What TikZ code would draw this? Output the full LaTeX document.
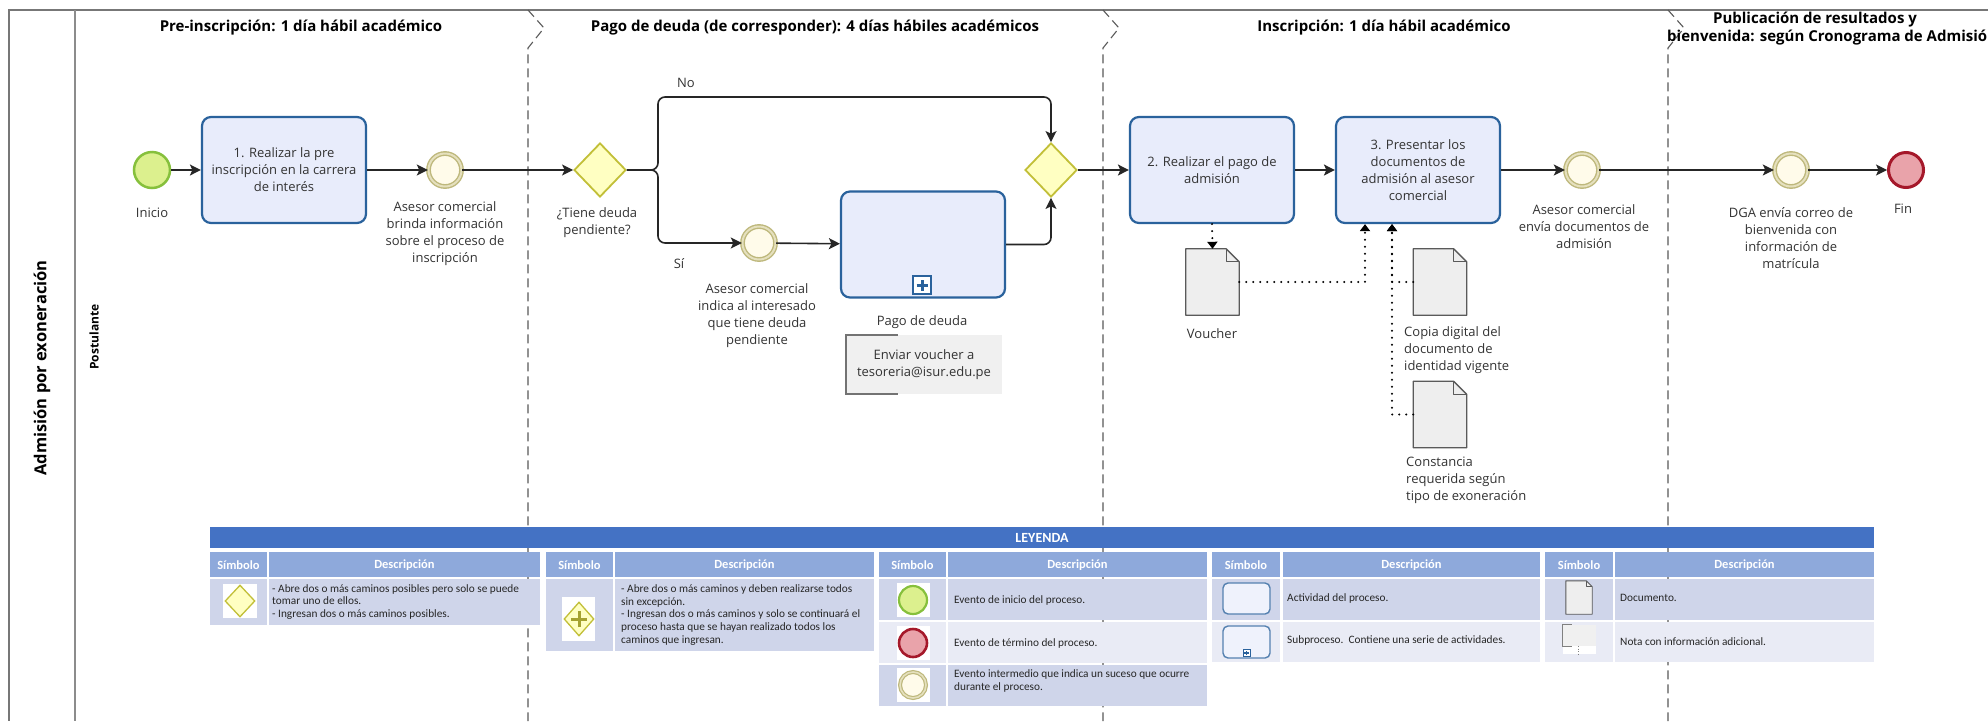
\documentclass[tikz,border=0pt]{standalone}
\usepackage{fontspec}
\setmainfont{Open Sans}
\newfontfamily\legendfont{Carlito}
\usetikzlibrary{shapes.geometric,arrows.meta,calc}

\definecolor{taskfill}{HTML}{E8ECFB}
\definecolor{taskdraw}{HTML}{2A629C}
\definecolor{startfill}{HTML}{DCF08E}
\definecolor{startdraw}{HTML}{86C03C}
\definecolor{endfill}{HTML}{E9A3AA}
\definecolor{enddraw}{HTML}{A5182A}
\definecolor{midfill}{HTML}{FFFBEA}
\definecolor{middraw}{HTML}{BEB87C}
\definecolor{gwfill}{HTML}{FFFFC2}
\definecolor{gwdraw}{HTML}{C2BF38}
\definecolor{docfill}{HTML}{EEEEEE}
\definecolor{docdraw}{HTML}{5A5A5A}
\definecolor{notefill}{HTML}{F0F0F0}
\definecolor{labelgray}{HTML}{333333}
\definecolor{poolline}{HTML}{777777}
\definecolor{lgtitle}{HTML}{4472C4}
\definecolor{lghead}{HTML}{8EA9DB}
\definecolor{lgrowA}{HTML}{CFD5EA}
\definecolor{lgrowB}{HTML}{E9EBF5}

% document icon drawn around an empty node: #2 node name, #3 fold size
\newcommand\drawdoc[3][1.3pt]{%
  \filldraw[fill=docfill, draw=docdraw, line width=#1, line join=round]
    (#2.north west) -- ($(#2.north east)+(-#3,0)$) -- ($(#2.north east)+(0,#3)$)
    -- (#2.south east) -- (#2.south west) -- cycle;
  \draw[draw=docdraw, line width=#1, line join=round]
    ($(#2.north east)+(-#3,0)$) |- ($(#2.north east)+(0,#3)$);
}

\begin{document}
\begin{tikzpicture}[x=1pt,y=-1pt,
  every node/.style={inner sep=0pt},
  lbl/.style={font=\fontsize{13}{17}\selectfont, text=labelgray, align=center},
  ttl/.style={font=\fontsize{15}{17.5}\selectfont\bfseries, align=center},
  task/.style={rectangle, rounded corners=9pt, fill=taskfill, draw=taskdraw,
    line width=2.2pt, minimum width=164pt, minimum height=106pt, align=center,
    font=\fontsize{13}{17}\selectfont, text=labelgray},
  startev/.style={circle, fill=startfill, draw=startdraw, line width=2.5pt, minimum size=36pt},
  endev/.style={circle, fill=endfill, draw=enddraw, line width=3pt, minimum size=35pt},
  midev/.style={circle, fill=midfill, draw=middraw, line width=1.4pt,
    double=midfill!60!middraw, double distance=2pt, minimum size=33pt},
  gateway/.style={diamond, fill=gwfill, draw=gwdraw, line width=1.8pt,
    minimum width=52pt, minimum height=54pt},
  flow/.style={draw=black!85, line width=1.6pt, -{Stealth[length=11pt,width=11pt,inset=2.5pt]}},
  assoc/.style={draw=black, line width=2.2pt, dash pattern=on 0pt off 7pt, line cap=round,
    -{Triangle[length=7pt,width=10pt]}},
  docnode/.style={minimum width=53pt, minimum height=66pt},
  phase/.style={draw=black!65, line width=1.1pt, dash pattern=on 9pt off 5pt},
  lgtext/.style={font=\legendfont\fontsize{11.3}{12.8}\selectfont, text=black!85, align=left, anchor=west},
  lghd/.style={font=\legendfont\bfseries\fontsize{12.5}{14}\selectfont, text=white},
]
\path[use as bounding box] (0,0) rectangle (1988,721);
\clip (0,0) rectangle (1988,721);
\fill[white] (0,0) rectangle (1988,721);

% pool and lane
\draw[poolline, line width=2.5pt] (1988,10) -- (9,10) -- (9,721);
\draw[black!45, line width=2pt] (75,10) -- (75,721);
\node[rotate=90, font=\fontsize{16.5}{19}\selectfont\bfseries] (pool) at (42,368) {Admisión por exoneración};
\node[rotate=90, font=\fontsize{12}{14}\selectfont\bfseries] (lane) at (94,337) {Postulante};

% phase separators
\foreach \px in {528,1103,1668}
  \draw[phase] (\px,10) -- (\px+16,28) -- (\px,48) -- (\px,721);

% phase titles
\node[ttl, anchor=north] (ph1) at (301,20) {Pre-inscripción: 1 día hábil académico};
\node[ttl, anchor=north] (ph2) at (815,20) {Pago de deuda (de corresponder): 4 días hábiles académicos};
\node[ttl, anchor=north] (ph3) at (1384,20) {Inscripción: 1 día hábil académico};
\node[ttl, anchor=north] (ph4a) at (1815,12) {Publicación de resultados y};
\node[ttl, anchor=north west] (ph4b) at (1667,30) {bienvenida: según Cronograma de Admisión};

% flow objects
\node[startev] (inicio) at (152,170) {};
\node[task] (t1) at (284,170) {1. Realizar la pre\\inscripción en la carrera\\de interés};
\node[midev] (e1) at (445,170) {};
\node[gateway] (g1) at (600,170) {};
\node[midev] (e2) at (759,243) {};
\node[task] (sp) at (923,244.5) {};
\node[draw=taskdraw, fill=white, line width=1.5pt, minimum size=18pt] (spmark) at (922,285) {};
\draw[taskdraw, line width=3pt] ([xshift=-5.5pt]spmark.center) -- ([xshift=5.5pt]spmark.center)
  ([yshift=-5.5pt]spmark.center) -- ([yshift=5.5pt]spmark.center);
\node[gateway] (g2) at (1051,170) {};
\node[task] (t2) at (1212,170) {2. Realizar el pago de\\admisión};
\node[task] (t3) at (1418,170) {3. Presentar los\\documentos de\\admisión al asesor\\comercial};
\node[midev] (e3) at (1582,170) {};
\node[midev] (e4) at (1791,170) {};
\node[endev] (fin) at (1906,170) {};

% labels
\node[lbl, anchor=north] (inicioL) at (152,208) {Inicio};
\node[lbl, anchor=north] (e1L) at (445,201) {Asesor comercial\\brinda información\\sobre el proceso de\\inscripción};
\node[lbl, anchor=north] (g1L) at (597,207) {¿Tiene deuda\\pendiente?};
\node[lbl, anchor=north] (noL) at (686,78) {No};
\node[lbl, anchor=north] (siL) at (679,258) {Sí};
\node[lbl, anchor=north] (e2L) at (757,283) {Asesor comercial\\indica al interesado\\que tiene deuda\\pendiente};
\node[lbl, anchor=north] (spL) at (922,315) {Pago de deuda};
\node[lbl, anchor=north] (e3L) at (1584,204) {Asesor comercial\\envía documentos de\\admisión};
\node[lbl, anchor=north] (e4L) at (1791,207) {DGA envía correo de\\bienvenida con\\información de\\matrícula};
\node[lbl, anchor=north] (finL) at (1903,204) {Fin};

% annotation attached to the subprocess
\node[fill=notefill, minimum width=156pt, minimum height=59pt, lbl] (nota) at (924,364.5)
  {Enviar voucher a\\tesoreria@isur.edu.pe};
\draw[black!55, line width=1.5pt] ([xshift=52pt]nota.north west) -- (nota.north west)
  -- (nota.south west) -- ([xshift=52pt]nota.south west);

% data objects
\node[docnode] (voucher) at (1212.5,282) {};
\node[docnode] (copia) at (1440,282) {};
\node[docnode] (constancia) at (1440,414.5) {};
\drawdoc{voucher}{13}
\drawdoc{copia}{13}
\drawdoc{constancia}{13}
\node[lbl, anchor=north] (voucherL) at (1212,328) {Voucher};
\node[lbl, anchor=north west, align=left] (copiaL) at (1404,326) {Copia digital del\\documento de\\identidad vigente};
\node[lbl, anchor=north west, align=left] (constanciaL) at (1406,457) {Constancia\\requerida según\\tipo de exoneración};

% sequence flows
\coordinate (split) at (658,170);
\coordinate (noY) at (0,97);
\draw[flow] (inicio) -- (t1);
\draw[flow] (t1) -- (e1);
\draw[flow] (e1) -- (g1);
\draw[flow, rounded corners=7pt] (g1.east) -- (split) |- (g2.north |- noY) -- (g2.north);
\draw[flow, rounded corners=7pt] (g1.east) -- (split) |- (e2);
\draw[flow] (e2) -- (sp);
\draw[flow, rounded corners=7pt] (sp.east) -| (g2.south);
\draw[flow] (g2) -- (t2);
\draw[flow] (t2) -- (t3);
\draw[flow] (t3) -- (e3);
\draw[flow] (e3) -- (e4);
\draw[flow] (e4) -- (fin);

% data associations
\draw[assoc] (t2.south) -- (voucher.north);
\draw[assoc] (voucher.east) -| ([xshift=-53pt]t3.south);
\draw[assoc] (copia.west) -| ([xshift=-26pt]t3.south);
\draw[assoc] (constancia.west) -| ([xshift=-26pt]t3.south);

% ---------------- legend ----------------
\fill[lgtitle] (210,527) rectangle (1874,548);
\node[font=\legendfont\bfseries\fontsize{14}{16}\selectfont, text=white] (leyenda) at (1042,538) {LEYENDA};

\foreach \sa/\sb/\da/\db in {210/267/269/540, 546/613/615/874, 879/946/948/1207, 1212/1280/1283/1540, 1545/1613/1615/1874}{
  \fill[lghead] (\sa,552) rectangle (\sb,577);
  \fill[lghead] (\da,552) rectangle (\db,577);
  \node[lghd] at ({(\sa+\sb)/2},565) {Símbolo};
  \node[lghd] at ({(\da+\db)/2},565) {Descripción};
}
% rows
\fill[lgrowA] (210,579) rectangle (267,625);  \fill[lgrowA] (269,579) rectangle (540,625);
\fill[lgrowA] (546,579) rectangle (613,651);  \fill[lgrowA] (615,579) rectangle (874,651);
\fill[lgrowA] (879,579) rectangle (946,620);  \fill[lgrowA] (948,579) rectangle (1207,620);
\fill[lgrowB] (879,622) rectangle (946,663);  \fill[lgrowB] (948,622) rectangle (1207,663);
\fill[lgrowA] (879,665) rectangle (946,706);  \fill[lgrowA] (948,665) rectangle (1207,706);
\fill[lgrowA] (1212,579) rectangle (1280,620); \fill[lgrowA] (1283,579) rectangle (1540,620);
\fill[lgrowB] (1212,622) rectangle (1280,662); \fill[lgrowB] (1283,622) rectangle (1540,662);
\fill[lgrowA] (1545,579) rectangle (1613,620); \fill[lgrowA] (1615,579) rectangle (1874,620);
\fill[lgrowB] (1545,622) rectangle (1613,662); \fill[lgrowB] (1615,622) rectangle (1874,662);

% legend symbols
\fill[white] (223,584) rectangle (257,618);
\node[diamond, fill=gwfill, draw=gwdraw, line width=1.3pt, minimum width=30pt, minimum height=32pt] (lgx) at (240,601) {};
\fill[white] (562,597) rectangle (595,641);
\node[diamond, fill=gwfill, draw=gwdraw, line width=1.3pt, minimum width=30pt, minimum height=34pt] (lgp) at (579,619) {};
\draw[gwdraw!85!black, line width=3pt] ([xshift=-8pt]lgp.center) -- ([xshift=8pt]lgp.center)
  ([yshift=-8pt]lgp.center) -- ([yshift=8pt]lgp.center);
\fill[white] (897,583) rectangle (930,617);
\fill[white] (897,626) rectangle (930,660);
\fill[white] (897,668) rectangle (930,702);
\node[circle, fill=startfill, draw=startdraw, line width=2.2pt, minimum size=28pt] (lgs) at (913,600) {};
\node[circle, fill=endfill, draw=enddraw, line width=2.6pt, minimum size=28pt] (lge) at (913,643) {};
\node[circle, fill=midfill, draw=middraw, line width=1.2pt, double=midfill!60!middraw, double distance=1.6pt, minimum size=26pt] (lgm) at (913,685) {};
\node[rectangle, rounded corners=5pt, fill=taskfill!70!white, draw=taskdraw!80, line width=1.4pt, minimum width=47pt, minimum height=31pt] (lga) at (1246.5,598.5) {};
\node[rectangle, rounded corners=5pt, fill=taskfill!70!white, draw=taskdraw!80, line width=1.4pt, minimum width=47pt, minimum height=32pt] (lgsp) at (1246.5,642) {};
\node[draw=taskdraw, fill=white, line width=0.8pt, minimum size=7pt] (lgspm) at (1246.5,653) {};
\draw[taskdraw, line width=1.2pt] ([xshift=-2.2pt]lgspm.center) -- ([xshift=2.2pt]lgspm.center)
  ([yshift=-2.2pt]lgspm.center) -- ([yshift=2.2pt]lgspm.center);
\node[minimum width=26pt, minimum height=33pt] (lgd) at (1579,597.5) {};
\drawdoc[0.9pt]{lgd}{6}
\fill[white] (1563,646) rectangle (1596,654);
\node[fill=notefill, minimum width=33pt, minimum height=21pt] (lgn) at (1579.5,635.5) {};
\draw[black!50, line width=1pt] ([xshift=9pt]lgn.north west) -- (lgn.north west)
  -- (lgn.south west) -- ([xshift=9pt]lgn.south west);
\draw[black!50, line width=0.8pt, dash pattern=on 1pt off 1.5pt] (1578,646) -- (1578,654);

% legend descriptions
\node[lgtext] (d1) at (272,602) {- Abre dos o más caminos posibles pero solo se puede\\tomar uno de ellos.\\- Ingresan dos o más caminos posibles.};
\node[lgtext] (d2) at (621,615) {- Abre dos o más caminos y deben realizarse todos\\sin excepción.\\- Ingresan dos o más caminos y solo se continuará el\\proceso hasta que se hayan realizado todos los\\caminos que ingresan.};
\node[lgtext] (d3) at (954,600) {Evento de inicio del proceso.};
\node[lgtext] (d4) at (954,643) {Evento de término del proceso.};
\node[lgtext] (d5) at (954,681) {Evento intermedio que indica un suceso que ocurre\\durante el proceso.};
\node[lgtext] (d6) at (1287,598) {Actividad del proceso.};
\node[lgtext] (d7) at (1287,640) {Subproceso.\ \ Contiene una serie de actividades.};
\node[lgtext] (d8) at (1620,598) {Documento.};
\node[lgtext] (d9) at (1620,642) {Nota con información adicional.};
\end{tikzpicture}
\end{document}
